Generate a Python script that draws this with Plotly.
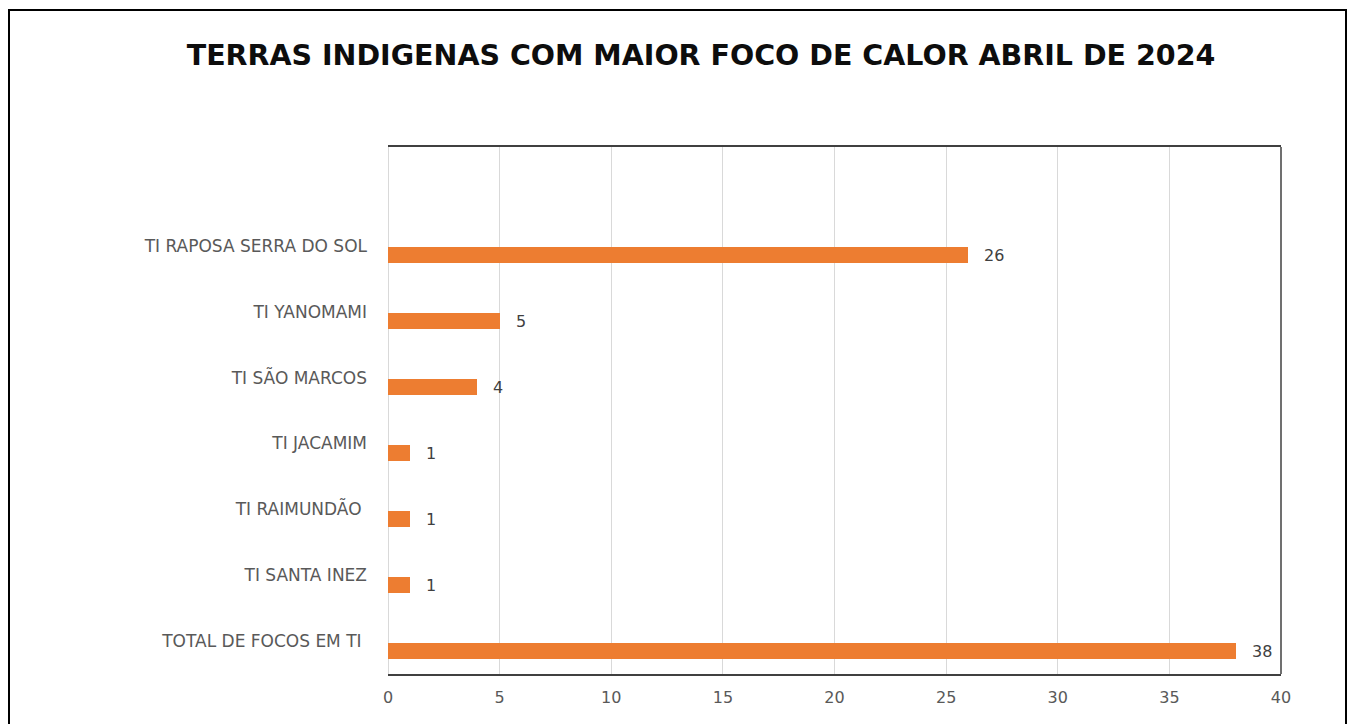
import plotly.graph_objects as go

categories = [
    "TI RAPOSA SERRA DO SOL",
    "TI YANOMAMI",
    "TI SÃO MARCOS",
    "TI JACAMIM",
    "TI RAIMUNDÃO ",
    "TI SANTA INEZ",
    "TOTAL DE FOCOS EM TI ",
]
values = [26, 5, 4, 1, 1, 1, 38]
x_ticks = [0, 5, 10, 15, 20, 25, 30, 35, 40]
title_text = "TERRAS INDIGENAS COM MAIOR FOCO DE CALOR ABRIL DE 2024"

W, H = 1347, 724
L, R, T, B = 388, 66, 147, 50

fig = go.Figure()
fig.add_trace(go.Bar(
    y=categories, x=values, orientation="h",
    marker=dict(color="#ED7D31", line=dict(width=0)),
    width=0.243, offset=0.0225,
))

pw = W - L - R
ph = H - T - B
annotations = [
    dict(x=v, y=c, xref="x", yref="y", text=str(v), showarrow=False,
         xanchor="left", yanchor="middle", xshift=14, yshift=-10,
         font=dict(family="DejaVu Sans", size=16, color="#404040"))
    for c, v in zip(categories, values)
]

fig.update_layout(
    width=W, height=H,
    margin=dict(l=L, r=R, t=T, b=B),
    paper_bgcolor="white", plot_bgcolor="white",
    showlegend=False,
    title=dict(text="<b>" + title_text + "</b>", x=701 / W, xref="container", xanchor="center",
               y=(H - 55) / H, yref="container", yanchor="middle",
               font=dict(family="DejaVu Sans", size=28.5, color="#0d0d0d")),
    xaxis=dict(range=[0, 40], tickvals=x_ticks, ticktext=[str(t) for t in x_ticks],
               showgrid=True, gridcolor="#d9d9d9", gridwidth=1,
               zeroline=True, zerolinecolor="#d9d9d9", zerolinewidth=1,
               showline=True, mirror=True, linecolor="#404040", linewidth=1.5,
               ticks="", ticklabelstandoff=8,
               tickfont=dict(family="DejaVu Sans", size=16, color="#595959")),
    yaxis=dict(type="category", categoryorder="array", categoryarray=categories,
               range=[6.5, -1.5], showgrid=False, zeroline=False, showline=False,
               ticks="", ticklabelstandoff=20,
               tickfont=dict(family="DejaVu Sans", size=17, color="#595959")),
    bargap=0,
    annotations=annotations,
    shapes=[
        dict(type="line", xref="paper", yref="paper", x0=1, x1=1, y0=0, y1=1,
             line=dict(color="#404040", width=1.5)),
        dict(type="rect", xref="paper", yref="paper",
             x0=(9 - L) / pw, x1=(1346 - L) / pw,
             y0=(H - B - 740) / ph, y1=(H - B - 10) / ph,
             line=dict(color="#000000", width=2), layer="below"),
    ],
)

fig.write_html("out.html", config={"displayModeBar": False},
               post_script="document.body.style.margin='0';document.body.style.overflow='hidden';")
